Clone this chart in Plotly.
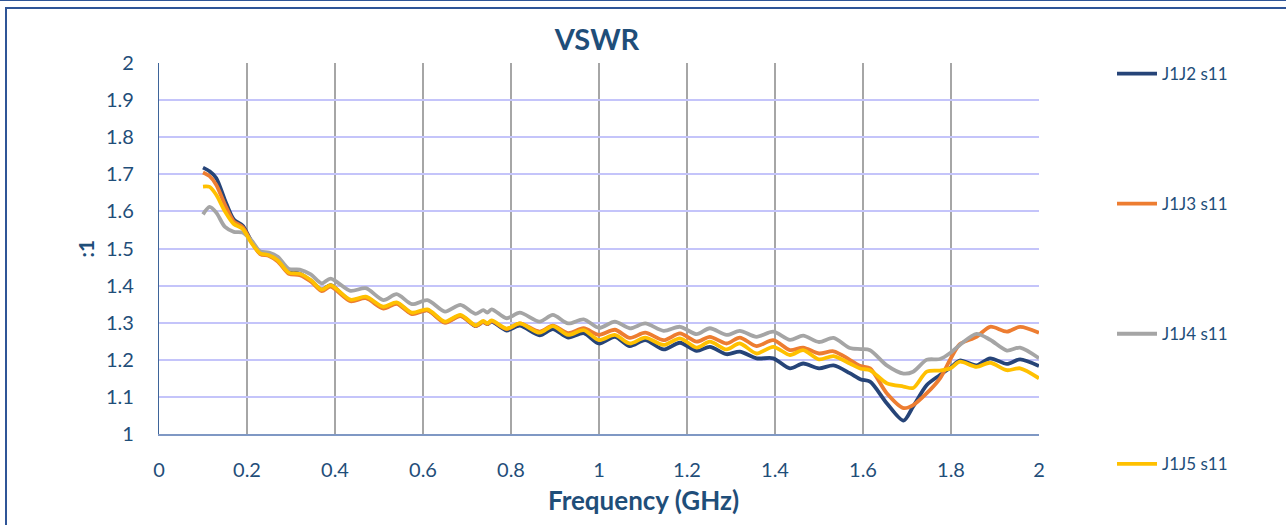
import plotly.graph_objects as go

freq_ghz = [0.10, 0.115, 0.13, 0.15, 0.17, 0.19, 0.21, 0.23, 0.25, 0.27, 0.295, 0.32, 0.345, 0.37, 0.39,
            0.435, 0.47, 0.51, 0.54, 0.575, 0.61, 0.65, 0.685, 0.72, 0.737, 0.746, 0.756, 0.79, 0.82,
            0.865, 0.895, 0.93, 0.965, 1.00, 1.036, 1.07, 1.105, 1.147, 1.184, 1.222, 1.252, 1.29, 1.32,
            1.358, 1.396, 1.434, 1.464, 1.50, 1.533, 1.57, 1.595, 1.616, 1.654, 1.692, 1.714, 1.745,
            1.775, 1.80, 1.82, 1.858, 1.889, 1.927, 1.957, 2.00]

j1j2_s11 = [1.718, 1.708, 1.690, 1.630, 1.578, 1.562, 1.520, 1.488, 1.486, 1.470, 1.437, 1.432, 1.413, 1.389, 1.401,
            1.360, 1.368, 1.340, 1.353, 1.325, 1.334, 1.301, 1.319, 1.291, 1.302, 1.296, 1.303, 1.279, 1.292,
            1.266, 1.283, 1.260, 1.272, 1.244, 1.262, 1.237, 1.253, 1.228, 1.246, 1.224, 1.235, 1.215, 1.222,
            1.204, 1.204, 1.177, 1.190, 1.177, 1.185, 1.164, 1.147, 1.141, 1.083, 1.036, 1.074, 1.132,
            1.159, 1.180, 1.198, 1.185, 1.204, 1.189, 1.201, 1.183]

j1j3_s11 = [1.705, 1.695, 1.672, 1.618, 1.573, 1.558, 1.518, 1.485, 1.480, 1.465, 1.432, 1.428, 1.411, 1.385, 1.397,
            1.358, 1.366, 1.338, 1.351, 1.323, 1.333, 1.300, 1.318, 1.291, 1.302, 1.296, 1.304, 1.283, 1.298,
            1.276, 1.292, 1.272, 1.285, 1.267, 1.281, 1.259, 1.273, 1.253, 1.271, 1.249, 1.262, 1.244, 1.260,
            1.237, 1.253, 1.226, 1.233, 1.217, 1.223, 1.200, 1.183, 1.177, 1.110, 1.070, 1.078, 1.110,
            1.150, 1.205, 1.242, 1.262, 1.289, 1.276, 1.289, 1.273]

j1j4_s11 = [1.592, 1.612, 1.597, 1.558, 1.545, 1.543, 1.522, 1.492, 1.489, 1.478, 1.445, 1.443, 1.430, 1.406, 1.419,
            1.386, 1.393, 1.361, 1.377, 1.350, 1.361, 1.330, 1.348, 1.324, 1.334, 1.327, 1.336, 1.312, 1.327,
            1.303, 1.321, 1.298, 1.309, 1.286, 1.303, 1.285, 1.298, 1.278, 1.289, 1.269, 1.285, 1.267, 1.278,
            1.262, 1.276, 1.254, 1.265, 1.248, 1.259, 1.232, 1.229, 1.226, 1.185, 1.163, 1.168, 1.200,
            1.202, 1.220, 1.240, 1.270, 1.254, 1.225, 1.233, 1.204]

j1j5_s11 = [1.667, 1.666, 1.645, 1.600, 1.566, 1.553, 1.515, 1.487, 1.482, 1.468, 1.435, 1.432, 1.415, 1.389, 1.401,
            1.362, 1.370, 1.343, 1.355, 1.327, 1.336, 1.303, 1.321, 1.293, 1.305, 1.298, 1.306, 1.284, 1.298,
            1.273, 1.291, 1.267, 1.280, 1.253, 1.267, 1.244, 1.260, 1.240, 1.258, 1.233, 1.249, 1.228, 1.244,
            1.217, 1.235, 1.213, 1.226, 1.201, 1.210, 1.190, 1.176, 1.172, 1.137, 1.128, 1.124, 1.168,
            1.171, 1.178, 1.195, 1.181, 1.192, 1.172, 1.177, 1.150]

series_names = ["J1J2 s11", "J1J3 s11", "J1J4 s11", "J1J5 s11"]
series_values = [j1j2_s11, j1j3_s11, j1j4_s11, j1j5_s11]
series_colors = ["#264478", "#ED7D31", "#A5A5A5", "#FFC000"]

x_ticks = [0, 0.2, 0.4, 0.6, 0.8, 1, 1.2, 1.4, 1.6, 1.8, 2]
x_tick_text = ["0", "0.2", "0.4", "0.6", "0.8", "1", "1.2", "1.4", "1.6", "1.8", "2"]
y_ticks = [1, 1.1, 1.2, 1.3, 1.4, 1.5, 1.6, 1.7, 1.8, 1.9, 2]
y_tick_text = ["1", "1.1", "1.2", "1.3", "1.4", "1.5", "1.6", "1.7", "1.8", "1.9", "2"]

TXT = "#1F4E79"
FONT = "Lato"

fig = go.Figure()
for name, vals, col in zip(series_names, series_values, series_colors):
    fig.add_trace(go.Scatter(
        x=freq_ghz, y=vals, mode="lines", name=name, legendgroup=name,
        line=dict(color=col, width=3.8, shape="spline", smoothing=0.8),
    ))

L, R, T, B = 159, 1039, 63, 434
W, H = 1286, 525

def px_x(px):
    return (px - L) / (R - L)

def px_y(py):
    return (B - py) / (B - T)

fig.update_layout(
    width=W, height=H,
    margin=dict(l=L, r=W - R, t=T, b=H - B, autoexpand=False),
    paper_bgcolor="white", plot_bgcolor="white",
    font=dict(family=FONT, color=TXT, size=20),
    title=dict(text="<b>VSWR</b>", x=597 / W, xanchor="center", y=1 - 40 / H, yanchor="middle",
               yref="container", font=dict(size=29, color=TXT, family=FONT)),
    xaxis=dict(range=[0, 2], tickvals=x_ticks, ticktext=x_tick_text, showgrid=True,
               gridcolor="#A6A6A6", gridwidth=1.5, zeroline=False, showline=True,
               linecolor="#7F98C4", linewidth=1.5, ticks="outside", ticklen=17,
               tickcolor="rgba(0,0,0,0)", tickfont=dict(size=20, color=TXT)),
    yaxis=dict(range=[1, 2], tickvals=y_ticks, ticktext=y_tick_text, showgrid=True,
               gridcolor="#C4C4FA", gridwidth=2, zeroline=False, showline=True,
               linecolor="#3E6499", linewidth=1.2, ticks="outside", ticklen=20,
               tickcolor="rgba(0,0,0,0)", tickfont=dict(size=20, color=TXT)),
    legend=dict(x=px_x(1112), xanchor="left", y=px_y(56), yanchor="top",
                font=dict(size=17, color=TXT, family=FONT), tracegroupgap=105,
                bgcolor="rgba(0,0,0,0)", itemwidth=40, maxheight=700),
    annotations=[
        dict(text="<b>Frequency (GHz)</b>", xref="paper", yref="paper", x=px_x(643), y=px_y(500),
             xanchor="center", yanchor="middle", showarrow=False, font=dict(size=26, color=TXT)),
        dict(text="<b>:1</b>", xref="paper", yref="paper", x=px_x(85), y=0.5, textangle=-90,
             xanchor="center", yanchor="middle", showarrow=False, font=dict(size=21, color=TXT)),
    ],
    shapes=[
        dict(type="line", xref="paper", yref="paper", x0=px_x(0), x1=px_x(W), y0=px_y(0.5), y1=px_y(0.5),
             line=dict(color="#2F5597", width=1.2)),
        dict(type="line", xref="paper", yref="paper", x0=px_x(5), x1=px_x(W + 5), y0=px_y(8), y1=px_y(8),
             line=dict(color="#2F5597", width=2)),
        dict(type="line", xref="paper", yref="paper", x0=px_x(6), x1=px_x(6), y0=px_y(8), y1=px_y(H + 5),
             line=dict(color="#2F5597", width=2)),
    ],
)

fig.write_html("out.html", config={"displayModeBar": False},
               post_script="document.body.style.margin='0';document.body.style.overflow='hidden';")
